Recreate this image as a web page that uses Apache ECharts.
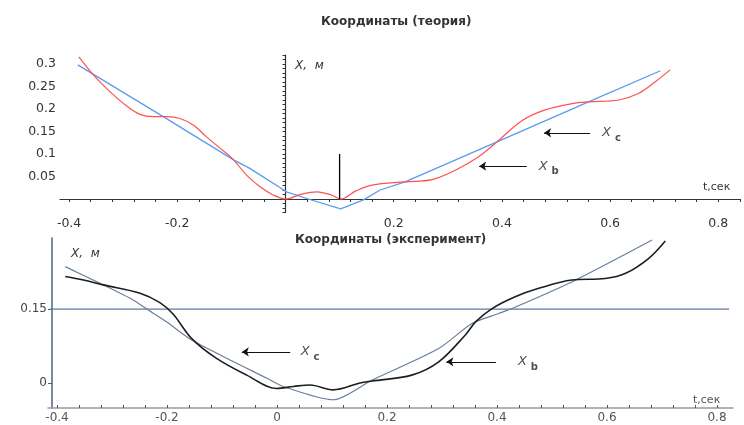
<!DOCTYPE html>
<html><head><meta charset="utf-8">
<script src="https://cdn.jsdelivr.net/npm/echarts@6/dist/echarts.min.js"></script>
<style>html,body{margin:0;padding:0;background:#fff}#c{width:744px;height:425px}</style>
</head><body><div id="c"></div>
<script>
// ---- Top chart (theory) ----
const topRedT = [-0.382,-0.353,-0.324,-0.294,-0.269,-0.244,-0.220,-0.195,-0.170,-0.146,-0.121,-0.096,-0.072,-0.047,-0.023,0,0.03,0.058,0.085,0.102,0.130,0.160,0.221,0.271,0.314,0.357,0.391,0.437,0.480,0.530,0.560,0.616,0.653,0.684,0.711];
const topRedX = [0.316,0.273,0.238,0.207,0.188,0.183,0.183,0.179,0.164,0.138,0.113,0.087,0.053,0.027,0.009,0,0.011,0.016,0.009,0,0.018,0.031,0.038,0.043,0.064,0.094,0.127,0.174,0.198,0.212,0.216,0.220,0.235,0.261,0.287];
const topBlueT = [-0.384,-0.226,-0.096,-0.066,0.002,0.042,0.102,0.144,0.175,0.221,0.391,0.560,0.693];
const topBlueX = [0.298,0.183,0.087,0.068,0.016,0,-0.022,-0.002,0.020,0.038,0.127,0.216,0.285];
const topMarkT = [0.1, 0.1];
const topMarkX = [0, 0.1];
const topXLabels = [-0.4,-0.2,0.2,0.4,0.6,0.8];
const topYLabels = [0.05,0.1,0.15,0.2,0.25,0.3];
// ---- Bottom chart (experiment) ----
const botBlackT = [-0.385,-0.352,-0.316,-0.249,-0.213,-0.189,-0.155,-0.110,-0.055,-0.001,0.030,0.060,0.102,0.151,0.173,0.245,0.294,0.342,0.361,0.391,0.433,0.476,0.536,0.597,0.633,0.676,0.706];
const botBlackX = [0.216,0.209,0.199,0.182,0.163,0.140,0.090,0.050,0.016,-0.011,-0.007,-0.004,-0.014,0.000,0.004,0.016,0.043,0.097,0.124,0.151,0.175,0.192,0.209,0.212,0.222,0.253,0.288];
const botGreyT = [-0.385,-0.316,-0.261,-0.237,-0.201,-0.155,-0.079,-0.019,0.011,0.102,0.173,0.294,0.355,0.403,0.427,0.536,0.682];
const botGreyX = [0.236,0.199,0.168,0.150,0.124,0.087,0.043,0.010,-0.007,-0.034,0.006,0.070,0.121,0.141,0.151,0.205,0.290];
const botRefT = [-0.413, 0.822];
const botRefX = [0.15, 0.15];
const botXLabels = [-0.4,-0.2,0,0.2,0.4,0.6,0.8];
const botYLabels = [0, 0.15];
// ---- Annotations: [arrow start t, arrow end t, level, text t, subscript]
const annTop = [[0.563,0.478,0.147,0.585,'c'],[0.446,0.358,0.073,0.468,'b']];
const annBot = [[0.024,-0.064,0.063,0.043,'c'],[0.398,0.308,0.043,0.438,'b']];

const zip = (a,b)=>a.map((v,i)=>[v,b[i]]);
const range = (a,b,s)=>{const r=[];for(let v=a;v<=b+1e-9;v+=s)r.push(+v.toFixed(4));return r;};
const FONT = 'DejaVu Sans';

function annSeries(ann, gi){
  const out=[];
  ann.forEach(a=>{
    out.push({type:'line',xAxisIndex:gi,yAxisIndex:gi,data:[],silent:true,
      markLine:{silent:true,symbol:['none','arrow'],symbolSize:[7,7],label:{show:false},
        lineStyle:{color:'#111',width:1,type:'solid'},
        data:[[{coord:[a[0],a[2]]},{coord:[a[1],a[2]]}]]}});
    out.push({type:'scatter',xAxisIndex:gi,yAxisIndex:gi,symbolSize:0,silent:true,
      data:[[a[3],a[2]]],
      label:{show:true,position:'right',distance:0,
        formatter:'{x|X}{s|'+a[4]+'}',
        rich:{x:{fontFamily:FONT,fontStyle:'italic',fontSize:13,color:'#222',padding:[0,4,0,0]},
              s:{fontFamily:FONT,fontWeight:'bold',fontSize:10,color:'#222',padding:[11,0,0,0]}}}});
  });
  return out;
}

const chart = echarts.init(document.getElementById('c'),null,{renderer:'canvas'});
const option = {
  animation:false,
  backgroundColor:'#fff',
  title:[
    {text:'Координаты (теория)',left:316,top:11,textStyle:{fontFamily:FONT,fontSize:12,fontWeight:'bold',color:'#333'}},
    {text:'Координаты (эксперимент)',left:290,top:229,textStyle:{fontFamily:FONT,fontSize:12,fontWeight:'bold',color:'#333'}},
    {text:'X,  м',left:290,top:55,textStyle:{fontFamily:FONT,fontSize:12,fontStyle:'italic',fontWeight:'normal',color:'#333'}},
    {text:'X,  м',left:66,top:243,textStyle:{fontFamily:FONT,fontSize:12,fontStyle:'italic',fontWeight:'normal',color:'#333'}},
    {text:'t,сек',left:698,top:177,textStyle:{fontFamily:FONT,fontSize:11,fontWeight:'normal',color:'#333'}},
    {text:'t,сек',left:688,top:390,textStyle:{fontFamily:FONT,fontSize:11,fontWeight:'normal',color:'#555'}}
  ],
  grid:[
    {left:60,top:55,width:680,height:157.5},
    {left:48,top:238,width:685,height:170}
  ],
  xAxis:[
    {type:'value',gridIndex:0,min:-0.4168,max:0.8401,
      axisLine:{onZero:true,lineStyle:{color:'#333',width:1.2}},
      splitLine:{show:false},
      axisTick:{customValues:range(-0.4,0.84,0.04),length:3,lineStyle:{color:'#333'}},
      axisLabel:{customValues:topXLabels,formatter:v=>String(v),fontFamily:FONT,fontSize:12.5,color:'#333',margin:5}},
    {type:'value',gridIndex:1,min:-0.4164,max:0.8291,
      axisLine:{onZero:false,lineStyle:{color:'#999',width:1.5}},
      splitLine:{show:false},
      axisTick:{customValues:range(-0.4,0.8,0.04),inside:true,length:3,lineStyle:{color:'#555'}},
      axisLabel:{customValues:botXLabels,formatter:v=>String(v),fontFamily:FONT,fontSize:12,color:'#555',margin:4}}
  ],
  yAxis:[
    {type:'value',gridIndex:0,min:-0.03,max:0.32,
      axisLine:{onZero:true,lineStyle:{color:'#333',width:1.2}},
      splitLine:{show:false},
      axisTick:{customValues:range(-0.03,0.32,0.01),length:3,lineStyle:{color:'#333'}},
      axisLabel:{customValues:topYLabels,formatter:v=>String(v),fontFamily:FONT,fontSize:12.5,color:'#333',margin:4}},
    {type:'value',gridIndex:1,min:-0.0507,max:0.2941,offset:-4,
      axisLine:{onZero:false,lineStyle:{color:'#4a6384',width:1.5}},
      splitLine:{show:false},
      axisTick:{customValues:botYLabels,length:4,lineStyle:{color:'#4a6384'}},
      axisLabel:{customValues:botYLabels,formatter:v=>String(v),fontFamily:FONT,fontSize:12,color:'#444',margin:5}}
  ],
  series:[
    {name:'Xb теория',type:'line',xAxisIndex:0,yAxisIndex:0,data:zip(topBlueT,topBlueX),showSymbol:false,smooth:false,
      lineStyle:{color:'#5a9cf0',width:1.3}},
    {name:'Xc теория',type:'line',xAxisIndex:0,yAxisIndex:0,data:zip(topRedT,topRedX),showSymbol:false,smooth:0.35,
      lineStyle:{color:'#ff5050',width:1.2}},
    {name:'marker',type:'line',xAxisIndex:0,yAxisIndex:0,data:zip(topMarkT,topMarkX),showSymbol:false,
      lineStyle:{color:'#000',width:1.3}},
    {name:'ref',type:'line',xAxisIndex:1,yAxisIndex:1,data:zip(botRefT,botRefX),showSymbol:false,
      lineStyle:{color:'#5f7c9c',width:1.2}},
    {name:'Xc эксперимент',type:'line',xAxisIndex:1,yAxisIndex:1,data:zip(botGreyT,botGreyX),showSymbol:false,smooth:0.25,
      lineStyle:{color:'#6a7f9a',width:1.2}},
    {name:'Xb эксперимент',type:'line',xAxisIndex:1,yAxisIndex:1,data:zip(botBlackT,botBlackX),showSymbol:false,smooth:0.35,
      lineStyle:{color:'#1e1e1e',width:1.6}},
    ...annSeries(annTop,0),
    ...annSeries(annBot,1)
  ]
};
chart.setOption(option);
</script></body></html>
